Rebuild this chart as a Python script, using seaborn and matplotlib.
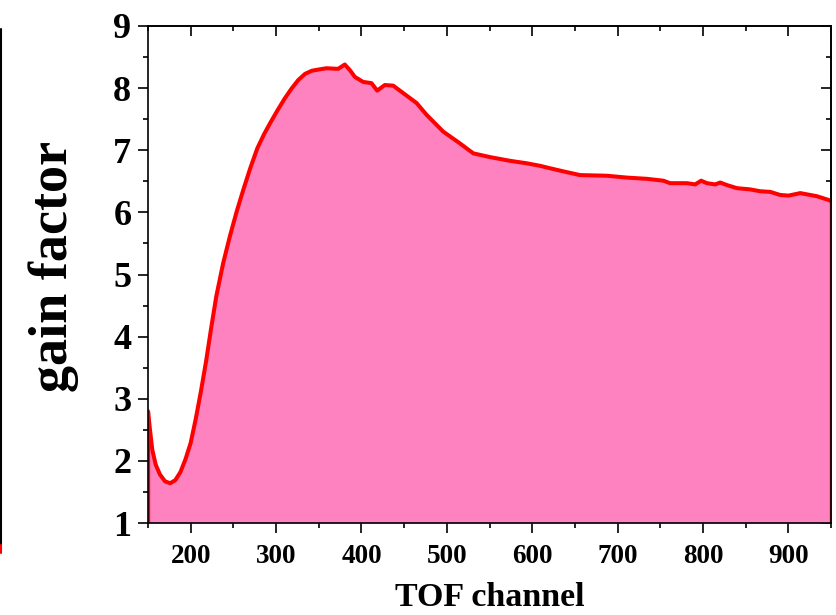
import pandas as pd
import matplotlib
matplotlib.use('Agg')
import matplotlib.pyplot as plt
from matplotlib.lines import Line2D
from matplotlib.ticker import MultipleLocator
import seaborn as sns

# values
tof_channel = [150, 152, 155, 159, 164, 170, 176, 182, 188, 194,
               200, 206, 212, 218, 224, 230, 238, 246, 254, 262,
               270, 278, 286, 294, 302, 310, 318, 326, 334, 342,
               350, 359, 372.7, 380.5, 386.4, 392.3, 402, 411.8, 418.4, 427.4,
               437.2, 448.9, 464.6, 476.3, 495.8, 515.4, 531, 550.5, 574, 593.6,
               609, 620.9, 636.5, 656, 687.3, 710.8, 734.2, 753.7, 761.5, 781.1,
               790.9, 797.9, 804.6, 814.3, 820.2, 828, 839.7, 855.3, 867, 878.8,
               890.5, 900.2, 914, 921.8, 933.5, 947.1, 950]
gain = [2.80, 2.54, 2.18, 1.94, 1.78, 1.67, 1.64, 1.69, 1.82, 2.03,
        2.29, 2.68, 3.12, 3.60, 4.14, 4.65, 5.18, 5.62, 6.02, 6.38,
        6.72, 7.03, 7.26, 7.46, 7.65, 7.83, 7.99, 8.13, 8.23, 8.28,
        8.30, 8.32, 8.31, 8.38, 8.29, 8.18, 8.10, 8.08, 7.96, 8.05,
        8.04, 7.92, 7.76, 7.57, 7.30, 7.11, 6.95, 6.89, 6.83, 6.79,
        6.75, 6.71, 6.66, 6.60, 6.59, 6.56, 6.54, 6.51, 6.47, 6.47,
        6.45, 6.51, 6.47, 6.45, 6.48, 6.44, 6.39, 6.37, 6.34, 6.33,
        6.28, 6.27, 6.31, 6.29, 6.26, 6.20, 6.18]
x_ticks = [200, 300, 400, 500, 600, 700, 800, 900]
y_ticks = [1, 2, 3, 4, 5, 6, 7, 8, 9]

df = pd.DataFrame({'TOF channel': tof_channel, 'gain factor': gain})

sns.set_style('ticks')
plt.rcParams['font.family'] = ['Liberation Serif', 'DejaVu Serif']
plt.rcParams['font.weight'] = 'bold'
for key in ['text.color', 'axes.labelcolor', 'xtick.color', 'ytick.color']:
    plt.rcParams[key] = 'black'

fig = plt.figure(figsize=(8.36, 6.15), dpi=100)
ax = fig.add_axes([148 / 836, 1 - 523 / 615, 683 / 836, 497 / 615])

ax.fill_between(df['TOF channel'], 1, df['gain factor'], color='#FF82C0', linewidth=0, zorder=1)
sns.lineplot(data=df, x='TOF channel', y='gain factor', color='#FF0000', linewidth=2.9,
             sort=False, ax=ax, zorder=3)
ax.vlines([tof_channel[0], tof_channel[-1]], 1, [gain[0], gain[-1]],
          color='#FF0000', linewidth=2.4, zorder=3)

ax.set_xlim(150, 950)
ax.set_ylim(1, 9)
ax.set_xticks(x_ticks)
ax.set_yticks(y_ticks)
ax.xaxis.set_minor_locator(MultipleLocator(50))
ax.yaxis.set_minor_locator(MultipleLocator(0.5))

for s in ax.spines.values():
    s.set_linewidth(1.2)
    s.set_color('black')
    s.set_zorder(4)

ax.tick_params(axis='both', which='both', direction='out', width=1.2, color='black',
               labelcolor='black', top=False, right=False)
ax.tick_params(axis='both', which='major', length=7)
ax.tick_params(axis='both', which='minor', length=3.5)
ax.tick_params(axis='x', labelsize=19.5, pad=8)
ax.tick_params(axis='y', labelsize=26, pad=5)

# mirrored inward ticks on top and right
sec_x = ax.secondary_xaxis('top')
sec_x.set_xticks(x_ticks)
sec_x.xaxis.set_minor_locator(MultipleLocator(50))
sec_y = ax.secondary_yaxis('right')
sec_y.set_yticks(y_ticks)
sec_y.yaxis.set_minor_locator(MultipleLocator(0.5))
for sec in [sec_x, sec_y]:
    sec.tick_params(which='both', direction='in', width=1.2, color='black',
                    labelleft=False, labelright=False, labeltop=False, labelbottom=False)
    sec.tick_params(which='major', length=7)
    sec.tick_params(which='minor', length=3.5)
    for s in sec.spines.values():
        s.set_linewidth(1.2)
        s.set_color('black')

ax.set_xlabel('TOF channel', fontsize=24.5, fontweight='bold', va='baseline', color='black')
ax.xaxis.set_label_coords(0.5, -0.168)
ax.set_ylabel('gain factor', fontsize=39, fontweight='bold', va='center', color='black')
ax.yaxis.set_label_coords(-0.1376, 0.516)

for lab in ax.get_xticklabels() + ax.get_yticklabels():
    lab.set_fontweight('bold')

# cropped edge of the neighbouring panel at the far left
fig.add_artist(Line2D([1 / 836, 1 / 836], [1 - 29 / 615, 1 - 545 / 615],
                      color='black', linewidth=1.5, transform=fig.transFigure))
fig.add_artist(Line2D([1 / 836, 1 / 836], [1 - 545 / 615, 1 - 553 / 615],
                      color='#FF0000', linewidth=1.5, transform=fig.transFigure))

fig.savefig('out.png', dpi=100)
